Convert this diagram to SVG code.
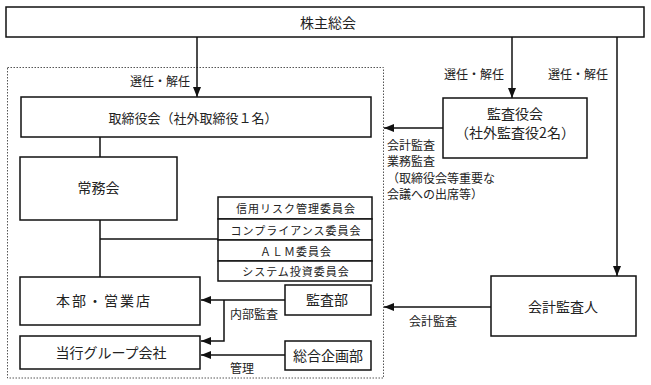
<svg xmlns="http://www.w3.org/2000/svg" width="651" height="385" viewBox="0 0 651 385">
<style>
text{font-family:"Noto Sans CJK JP","Noto Sans",sans-serif;fill:#222;dominant-baseline:central}
.box{fill:#fff;stroke:#111;stroke-width:1.5}
.c{text-anchor:middle}
.t14{font-size:14px}
.t13{font-size:13px}
.t12{font-size:12px}
.t11{font-size:11px;letter-spacing:1px}
.ln{fill:none;stroke:#111;stroke-width:1.5}
.ar{marker-end:url(#ah)}
</style>
<defs>
<marker id="ah" markerUnits="userSpaceOnUse" markerWidth="10" markerHeight="10" viewBox="0 0 10 10" refX="10" refY="5" orient="auto">
<path d="M0,1 L10,5 L0,9 Z" fill="#111"/>
</marker>
</defs>
<rect x="7.5" y="67.5" width="376" height="310.5" fill="none" stroke="#555" stroke-width="1" stroke-dasharray="1.5,1.5"/>
<g id="connectors">
<line class="ln ar" x1="197" y1="37" x2="197" y2="97"/>
<line class="ln ar" x1="512" y1="37" x2="512" y2="98"/>
<line class="ln ar" x1="617" y1="37" x2="617" y2="276"/>
<line class="ln ar" x1="443" y1="128" x2="384" y2="128"/>
<line class="ln ar" x1="491" y1="307" x2="384" y2="307"/>
<line class="ln" x1="100" y1="137" x2="100" y2="157"/>
<line class="ln" x1="100" y1="220" x2="100" y2="277"/>
<line class="ln" x1="100" y1="239" x2="218" y2="239"/>
<line class="ln ar" x1="285" y1="300" x2="201" y2="300"/>
<path class="ln ar" d="M224,300 V341 H201"/>
<line class="ln ar" x1="285" y1="355" x2="201" y2="355"/>
<text class="t12" x="130" y="80">選任・解任</text>
<text class="t12" x="444" y="73">選任・解任</text>
<text class="t12" x="548" y="73">選任・解任</text>
<text class="t12" x="387" y="144">会計監査</text>
<text class="t12" x="387" y="160">業務監査</text>
<text class="t12" x="387" y="177">（取締役会等重要な</text>
<text class="t12" x="387" y="193">会議への出席等）</text>
<text class="t12" x="409" y="320">会計監査</text>
<text class="t12" x="230" y="313">内部監査</text>
<text class="t12" x="230" y="367">管理</text>
</g>
<g id="shareholders">
<rect class="box" x="6" y="7" width="638" height="30"/>
<text class="t14 c" x="328" y="22">株主総会</text>
</g>
<g id="board">
<rect class="box" x="21" y="97" width="350" height="40"/>
<text class="t13 c" x="193" y="117">取締役会（社外取締役１名）</text>
</g>
<g id="auditors">
<rect class="box" x="443" y="98" width="144" height="60"/>
<text class="t14 c" x="515" y="113">監査役会</text>
<text class="t14 c" x="515" y="132">（社外監査役2名）</text>
</g>
<g id="executive">
<rect class="box" x="20" y="157" width="157" height="63"/>
<text class="t14 c" x="98.5" y="187">常務会</text>
</g>
<g id="committee-credit">
<rect class="box" x="218" y="197" width="154" height="22"/>
<text class="t11 c" x="296" y="208">信用リスク管理委員会</text>
</g>
<g id="committee-compliance">
<rect class="box" x="218" y="219" width="154" height="21"/>
<text class="t11 c" x="296" y="229.5">コンプライアンス委員会</text>
</g>
<g id="committee-alm">
<rect class="box" x="218" y="240" width="154" height="21"/>
<text class="t11 c" x="296" y="250.5">ＡＬＭ委員会</text>
</g>
<g id="committee-system">
<rect class="box" x="218" y="261" width="154" height="20"/>
<text class="t11 c" x="296" y="271">システム投資委員会</text>
</g>
<g id="hq-branches">
<rect class="box" x="20" y="277" width="180" height="48"/>
<text class="t14 c" x="104" y="300" letter-spacing="2">本部・営業店</text>
</g>
<g id="group-companies">
<rect class="box" x="20" y="336" width="180" height="33"/>
<text class="t14 c" x="111" y="352">当行グループ会社</text>
</g>
<g id="audit-dept">
<rect class="box" x="285" y="285" width="86" height="30"/>
<text class="t14 c" x="327" y="299">監査部</text>
</g>
<g id="planning-dept">
<rect class="box" x="285" y="341" width="86" height="29"/>
<text class="t14 c" x="328" y="355">総合企画部</text>
</g>
<g id="external-auditor">
<rect class="box" x="491" y="276" width="145" height="60"/>
<text class="t14 c" x="563" y="306">会計監査人</text>
</g>
</svg>
